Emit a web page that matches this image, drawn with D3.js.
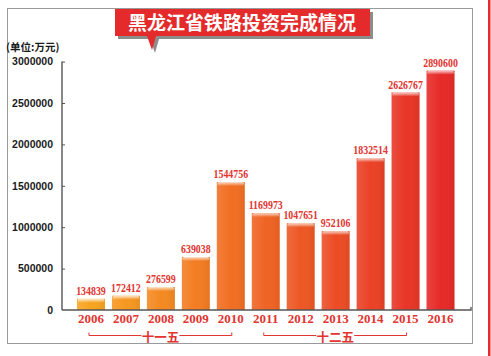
<!DOCTYPE html>
<html><head><meta charset="utf-8">
<script src="https://cdn.jsdelivr.net/npm/d3@7"></script>
<style>
html,body{margin:0;padding:0;background:#fff;}
svg{display:block;}
</style>
</head><body>
<svg id="chart" width="491" height="356"></svg>
<script>
const years = ["2006","2007","2008","2009","2010","2011","2012","2013","2014","2015","2016"];
const values = [134839,172412,276599,639038,1544756,1169973,1047651,952106,1832514,2626767,2890600];
const yTicks = [0,500000,1000000,1500000,2000000,2500000,3000000];
const periods = [
  {name:"十一五", from:"2006", to:"2010"},
  {name:"十二五", from:"2011", to:"2015"}
];
const title = "黑龙江省铁路投资完成情况";
const unitLabel = "(单位:万元)";

const svg = d3.select("#chart");
const defs = svg.append("defs");

// frame
svg.append("rect").attr("x",7.5).attr("y",8.5).attr("width",465).attr("height",335)
  .attr("fill","none").attr("stroke","#9a9a9a").attr("stroke-width",1);
svg.append("rect").attr("x",488).attr("y",0).attr("width",2.5).attr("height",356).attr("fill","#e42a2a");

const y = d3.scaleLinear().domain([0,3000000]).range([310,61.6]);
const x = d3.scaleBand().domain(years).range([73.5,458]).paddingInner(0.2).paddingOuter(0.1);

const colorScale = d3.scaleLinear().domain([0,4,10]).range(["#f7a41f","#f16e22","#e62a27"]).interpolate(d3.interpolateRgb);

// highlight gradient
const hg = defs.append("linearGradient").attr("id","hl").attr("x1",0).attr("y1",0).attr("x2",0).attr("y2",1);
hg.append("stop").attr("offset","0%").attr("stop-color","#fff").attr("stop-opacity",0.75);
hg.append("stop").attr("offset","100%").attr("stop-color","#fff").attr("stop-opacity",0);
const sg = defs.append("linearGradient").attr("id","side").attr("x1",0).attr("y1",0).attr("x2",1).attr("y2",0);
sg.append("stop").attr("offset","0%").attr("stop-color","#fff").attr("stop-opacity",0.12);
sg.append("stop").attr("offset","50%").attr("stop-color","#fff").attr("stop-opacity",0);
sg.append("stop").attr("offset","100%").attr("stop-color","#000").attr("stop-opacity",0.06);

// bars
const bars = svg.append("g");
bars.selectAll("rect.bar").data(values).join("rect").attr("class","bar")
  .attr("x",(d,i)=>x(years[i])).attr("width",x.bandwidth())
  .attr("y",d=>y(d)).attr("height",d=>y(0)-y(d))
  .attr("fill",(d,i)=>colorScale(i));
bars.selectAll("rect.side").data(values).join("rect").attr("class","side")
  .attr("x",(d,i)=>x(years[i])).attr("width",x.bandwidth())
  .attr("y",d=>y(d)).attr("height",d=>y(0)-y(d))
  .attr("fill","url(#side)");
bars.selectAll("rect.hl").data(values).join("rect").attr("class","hl")
  .attr("x",(d,i)=>x(years[i])+0.5).attr("width",x.bandwidth()-1)
  .attr("y",d=>y(d)).attr("height",4).attr("rx",2)
  .attr("fill","url(#hl)");

// value labels
svg.append("g").selectAll("text").data(values).join("text")
  .attr("transform",(d,i)=>`translate(${x(years[i])+x.bandwidth()/2},${y(d)-4}) scale(0.86,1)`)
  .attr("text-anchor","middle")
  .attr("font-family","'Liberation Serif','DejaVu Serif',serif")
  .attr("font-weight","bold").attr("font-size",11.5)
  .attr("fill","#e3342f")
  .text(d=>d);

// y axis
const yAxis = d3.axisLeft(y).tickValues(yTicks).tickSize(-3).tickPadding(9).tickFormat(d3.format("d"));
const ga = svg.append("g").attr("transform","translate(62,0)").call(yAxis);
ga.select(".domain").attr("stroke","#555").attr("stroke-width",1.4).attr("d","M0,61.6V310");
ga.selectAll(".tick line").attr("stroke","#555").attr("stroke-width",1);
ga.selectAll(".tick text").attr("font-family","'Liberation Sans',Arial,sans-serif")
  .attr("font-weight","bold").attr("font-size",10.5).attr("fill","#1a1a1a");
ga.selectAll(".tick").filter(d=>d===0).select("line").remove();

// x axis
const xAxis = d3.axisBottom(x).tickSize(0).tickPadding(4);
const gx = svg.append("g").attr("transform","translate(0,310)").call(xAxis);
gx.select(".domain").attr("stroke","#555").attr("stroke-width",1.4).attr("d","M62,0H471V-3");
gx.selectAll(".tick text").attr("font-family","'Liberation Serif','DejaVu Serif',serif")
  .attr("font-weight","bold").attr("font-size",13).attr("fill","#e3342f");

// period brackets
const pg = svg.append("g");
periods.forEach(p=>{
  const x0 = x(p.from)+x.bandwidth()/2 - 2;
  const x1 = x(p.to)+x.bandwidth()/2 + 1;
  const cx = (x0+x1)/2;
  const half = 19;
  const by = 335.5;
  pg.append("path").attr("d",`M${x0},${by-3}V${by}H${cx-half}`).attr("fill","none").attr("stroke","#e3342f").attr("stroke-width",1);
  pg.append("path").attr("d",`M${cx+half},${by}H${x1}V${by-3}`).attr("fill","none").attr("stroke","#e3342f").attr("stroke-width",1);
  pg.append("text").attr("x",cx).attr("y",by+6.5).attr("text-anchor","middle")
    .attr("font-family","'Noto Sans CJK SC',sans-serif").attr("font-weight","bold").attr("font-size",12.5)
    .attr("fill","#e3342f").text(p.name);
});

// unit label
svg.append("text").attr("x",6).attr("y",51)
  .attr("font-family","'Noto Sans CJK SC',sans-serif").attr("font-weight","bold").attr("font-size",10.5)
  .attr("fill","#1a1a1a").text(unitLabel);

// title callout
const tg = svg.append("g");
const boxPath = "M115,9H370V36H156L152,50L147,36H115Z";
tg.append("path").attr("d",boxPath).attr("transform","translate(3,3)").attr("fill","#8c8c8c");
tg.append("path").attr("d",boxPath).attr("fill","#e42a2a");
tg.append("text").attr("x",242).attr("y",30).attr("text-anchor","middle")
  .attr("font-family","'Noto Sans CJK SC',sans-serif").attr("font-weight","bold").attr("font-size",19)
  .attr("fill","#fff").text(title);
</script>
</body></html>
